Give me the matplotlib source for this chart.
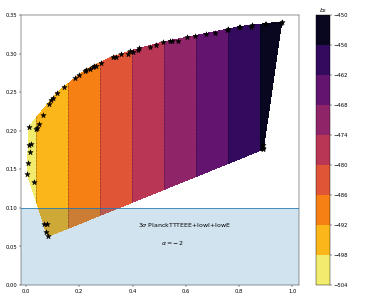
import numpy as np
import matplotlib
matplotlib.use("Agg")
import matplotlib.pyplot as plt
import matplotlib.tri as mtri

# boundary samples (stars): position and b2 value
x = [0.005, 0.009, 0.015, 0.010, 0.021, 0.011, 0.030,
     0.037, 0.040, 0.048, 0.064, 0.085, 0.094, 0.101, 0.116, 0.144,
     0.184, 0.198, 0.221, 0.225, 0.240, 0.250, 0.254, 0.264, 0.281,
     0.325, 0.337, 0.355, 0.384, 0.389, 0.402, 0.422, 0.426, 0.467,
     0.490, 0.516, 0.541, 0.549, 0.570, 0.606, 0.636, 0.674, 0.711,
     0.754, 0.760, 0.799, 0.802, 0.845, 0.847, 0.897, 0.901, 0.956,
     0.960, 0.890, 0.889, 0.891, 0.0675, 0.080, 0.076, 0.084]
y = [0.144, 0.158, 0.172, 0.181, 0.183, 0.205, 0.134,
     0.202, 0.204, 0.209, 0.221, 0.235, 0.240, 0.242, 0.249, 0.257,
     0.268, 0.272, 0.277, 0.279, 0.280, 0.282, 0.284, 0.284, 0.288,
     0.296, 0.295, 0.299, 0.300, 0.303, 0.302, 0.305, 0.307, 0.308,
     0.311, 0.315, 0.316, 0.317, 0.317, 0.321, 0.323, 0.325, 0.327,
     0.331, 0.332, 0.334, 0.335, 0.335, 0.337, 0.338, 0.339, 0.340,
     0.341, 0.178, 0.181, 0.176, 0.079, 0.079, 0.069, 0.063]
b2 = [-499.8, -499.6, -499.3, -499.5, -499.0, -499.5, -498.5,
      -498.2, -498.0, -497.6, -496.8, -495.8, -495.3, -494.9, -494.2, -492.8,
      -490.8, -490.1, -488.9, -488.8, -488.0, -487.5, -487.3, -486.8, -486.0,
      -483.8, -483.2, -482.3, -480.8, -480.6, -479.9, -478.9, -478.7, -476.7,
      -475.5, -474.2, -473.0, -472.6, -471.5, -469.7, -468.2, -466.3, -464.5,
      -462.3, -462.0, -460.1, -459.9, -457.8, -457.7, -455.2, -455.0, -452.2,
      -452.0, -455.5, -455.6, -455.5, -496.6, -496.0, -496.2, -495.8]

levels = [-504, -498, -492, -486, -480, -474, -468, -462, -456, -450]
bound = 0.1

fig = plt.figure(figsize=(10, 8))
ax = fig.add_axes([0.055, 0.047, 0.744, 0.902])
cax = fig.add_axes([0.845, 0.047, 0.037, 0.902])

tri = mtri.Triangulation(x, y)
cs = ax.tricontourf(tri, b2, levels=levels, cmap="inferno_r", zorder=1)
ax.tricontour(tri, b2, levels=levels, colors="k", linestyles=":",
              linewidths=1, zorder=2)
ax.scatter(x, y, marker="*", s=110, color="k", zorder=4)

# excluded region
ax.axhspan(0, bound, color="C0", alpha=0.2, lw=0, zorder=3)
ax.axhline(bound, color="C0", lw=1.5, zorder=3)

ax.text(0.593, 0.078, r"3$\sigma$ PlanckTTTEEE+lowl+lowE", fontsize=12,
        ha="center", va="center", zorder=5)
ax.text(0.548, 0.055, r"$\alpha = -2$", fontsize=12,
        ha="center", va="center", zorder=5)

ax.set_xlim(-0.02, 1.024)
ax.set_ylim(0, 0.35)

cb = fig.colorbar(cs, cax=cax, ticks=levels)
cax.set_title(r"$b_2$")

fig.savefig("out.png", dpi=37.4)
